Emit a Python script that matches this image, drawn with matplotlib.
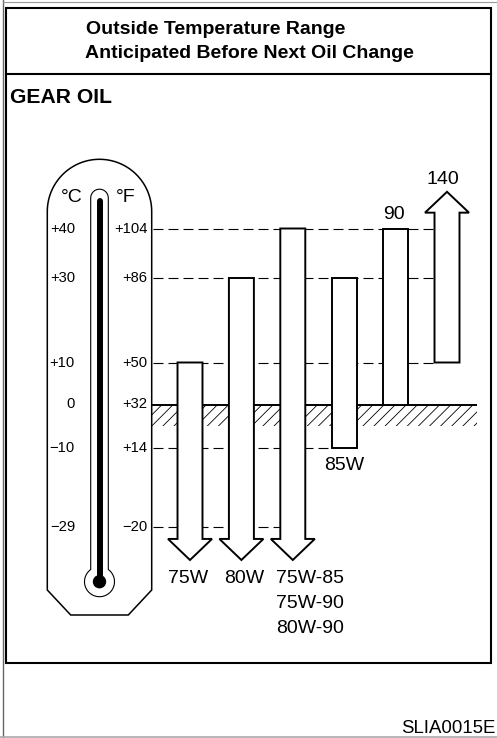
import numpy as np
import matplotlib
matplotlib.use("Agg")
import matplotlib.pyplot as plt
from matplotlib.patches import Polygon, Rectangle, Circle
from matplotlib.transforms import blended_transform_factory

plt.rcParams['font.family'] = ['Liberation Sans', 'DejaVu Sans']
plt.rcParams['hatch.linewidth'] = 0.6
plt.rcParams['lines.scale_dashes'] = False

# ---------------- data ----------------
TITLE_LINES = ["Outside Temperature Range", "Anticipated Before Next Oil Change"]
SECTION = "GEAR OIL"
CODE = "SLIA0015E"
GRADES = ["75W", "80W", "75W-85\n75W-90\n80W-90", "85W", "90", "140"]
LOW_F = [None, None, None, 14, 32, 50]      # None = open below (arrow down)
HIGH_F = [50, 86, 104, 86, 104, None]       # None = open above (arrow up)
LABEL_SIDE = ["below", "below", "below", "below", "above", "above"]
TEMP_F = [104, 86, 50, 32, 14, -20]
TEMP_F_LABELS = ["+104", "+86", "+50", "+32", "+14", "\u221220"]
TEMP_C_LABELS = ["+40", "+30", "+10", "0", "\u221210", "\u221229"]
FREEZE_BAND_F = [23, 32]
GUIDE_F = [104, 86, 50, 14, -20]
GUIDE_END = [5, 5, 5, 3, 2]   # guide runs to the bar with this index

# ---------------- layout / style ----------------
W, H = 497, 738
SCALE_F = np.array([-45, -20, 14, 32, 50, 86, 104, 128], float)
SCALE_PX = np.array([585.5, 527, 447.5, 404.5, 362.5, 278, 228.5, 161.8])
X_FIRST_PX, X_STEP_PX = 190.0, 51.4
AX_LEFT_PX, AX_RIGHT_PX = 152.0, 477.0
HW, HHW = 0.243, 0.428
DOWN_SHAFT, DOWN_TIP = -25.1, -34.1
UP_SHAFT, UP_TIP = 109.7, 117.2
LABEL_DX_PX = [-2, 3, 17, 0, -2, -4]
LW_BAR = 1.4


def fwd(v):
    return np.interp(v, SCALE_F, -SCALE_PX)


def inv(v):
    return np.interp(v, -SCALE_PX, SCALE_F)


fig = plt.figure(figsize=(W / 100, H / 100), dpi=100)

# background / decoration axes in pixel coordinates
bg = fig.add_axes([0, 0, 1, 1])
bg.set_xlim(0, W)
bg.set_ylim(H, 0)
bg.axis('off')

# outer frame
bg.plot([2.5, 2.5], [0, H], color='#666666', lw=1.0)
bg.plot([2.5, W], [1.5, 1.5], color='#999999', lw=0.8)
bg.plot([0, W], [736.8, 736.8], color='#aaaaaa', lw=1.2)
# inner box
bg.add_patch(Rectangle((5.5, 8), 491 - 5.5, 663 - 8, fill=False, ec='black', lw=1.5))
bg.plot([5.5, 491], [74, 74], color='black', lw=1.5)

bg.text(86, 34.5, TITLE_LINES[0], fontsize=14, weight='bold', va='baseline')
bg.text(85, 57.5, TITLE_LINES[1], fontsize=14, weight='bold', va='baseline')
bg.text(10, 103.3, SECTION, fontsize=15.2, weight='bold', va='baseline')
bg.text(495, 733, CODE, fontsize=13.4, ha='right', va='baseline')

# thermometer body
cx = 99.5
r = 52.2
cyd = 211.5
th = np.linspace(np.pi, 0, 80)
body = list(zip(cx + r * np.cos(th), cyd - r * np.sin(th)))
body += [(cx + r, 590), (cx + 28.8, 615), (cx - 28.8, 615), (cx - r, 590)]
bg.add_patch(Polygon(body, closed=True, fill=False, ec='black', lw=1.1, joinstyle='miter'))

# tube + bulb outline
tr, tty = 8.8, 198.0
br, bcy = 15.0, 581.7
th2 = np.linspace(np.pi, 0, 40)
tube = list(zip(cx + tr * np.cos(th2), tty - tr * np.sin(th2)))
phi0 = np.arctan2(np.sqrt(br ** 2 - tr ** 2), tr)
ph = np.linspace(phi0, -np.pi - phi0, 80)
tube += list(zip(cx + br * np.cos(ph), bcy - br * np.sin(ph)))
bg.add_patch(Polygon(tube, closed=True, fill=False, ec='black', lw=0.8))
bg.plot([cx, cx], [201, bcy], color='black', lw=4.3, solid_capstyle='round')
bg.add_patch(Circle((cx, bcy), 6, color='black'))

bg.text(71.5, 198, "\u00b0C", fontsize=14, ha='center', va='center')
bg.text(126, 198, "\u00b0F", fontsize=14, ha='center', va='center')

# chart axes
ax = fig.add_axes([AX_LEFT_PX / W, (H - SCALE_PX[0]) / H,
                   (AX_RIGHT_PX - AX_LEFT_PX) / W, (SCALE_PX[0] - SCALE_PX[-1]) / H])
ax.set_yscale('function', functions=(fwd, inv))
X0 = (AX_LEFT_PX - X_FIRST_PX) / X_STEP_PX
X1 = (AX_RIGHT_PX - X_FIRST_PX) / X_STEP_PX
ax.set_xlim(X0, X1)
ax.set_ylim(SCALE_F[0], SCALE_F[-1])
ax.axis('off')
ax.patch.set_visible(False)

# thermometer scale labels (y via chart scale)
trans = blended_transform_factory(bg.transData, ax.transData)
for f, cl, fl in zip(TEMP_F, TEMP_C_LABELS, TEMP_F_LABELS):
    bg.text(75, f, cl, transform=trans, fontsize=10.6, ha='right', va='center')
    bg.text(147.5, f, fl, transform=trans, fontsize=10.6, ha='right', va='center')

# freezing band
ax.add_patch(Rectangle((X0, FREEZE_BAND_F[0]), X1 - X0, FREEZE_BAND_F[1] - FREEZE_BAND_F[0],
                       fill=False, hatch='///', ec='black', lw=0, zorder=1.5))
ax.plot([X0, X1], [FREEZE_BAND_F[1]] * 2, color='black', lw=LW_BAR, zorder=2)

# guide lines
for f, e in zip(GUIDE_F, GUIDE_END):
    ax.plot([X0 + 0.02, e - HW], [f, f], color='black', lw=0.8,
            dashes=(7.2, 3.6), zorder=1)

# bars / arrows
for i, (lo, hi) in enumerate(zip(LOW_F, HIGH_F)):
    if lo is None:
        v = [(i - HW, hi), (i + HW, hi), (i + HW, DOWN_SHAFT), (i + HHW, DOWN_SHAFT),
             (i, DOWN_TIP), (i - HHW, DOWN_SHAFT), (i - HW, DOWN_SHAFT)]
    elif hi is None:
        v = [(i - HW, lo), (i + HW, lo), (i + HW, UP_SHAFT), (i + HHW, UP_SHAFT),
             (i, UP_TIP), (i - HHW, UP_SHAFT), (i - HW, UP_SHAFT)]
    else:
        v = [(i - HW, lo), (i + HW, lo), (i + HW, hi), (i - HW, hi)]
    ax.add_patch(Polygon(v, closed=True, fc='white', ec='black', lw=LW_BAR,
                         joinstyle='miter', zorder=3))

# labels
for i, (name, lo, hi, side) in enumerate(zip(GRADES, LOW_F, HIGH_F, LABEL_SIDE)):
    dx = LABEL_DX_PX[i] * 0.72
    if side == "below":
        y = lo if lo is not None else DOWN_TIP
        for k, line in enumerate(name.split("\n")):
            ax.annotate(line, (i, y), xytext=(dx, -16.5 - 18 * k), textcoords='offset points',
                        ha='center', va='baseline', fontsize=14)
    else:
        y = hi if hi is not None else UP_TIP
        off = 6.8 if hi is not None else 5.5
        ax.annotate(name, (i, y), xytext=(dx, off), textcoords='offset points',
                    ha='center', va='baseline', fontsize=14)

fig.savefig("out.png", dpi=100)
